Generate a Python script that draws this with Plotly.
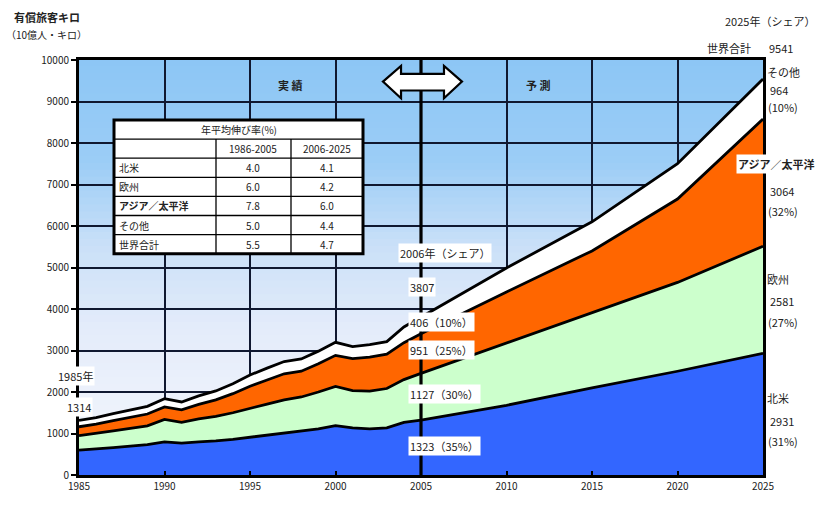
import plotly.graph_objects as go

# ---- data (10億人・キロ) ----
years = [1985, 1986, 1987, 1988, 1989, 1990, 1991, 1992, 1993, 1994, 1995,
         1996, 1997, 1998, 1999, 2000, 2001, 2002, 2003, 2004, 2005,
         2010, 2015, 2020, 2025]
north_america = [600, 625, 660, 695, 730, 800, 770, 800, 820, 860, 910,
                 960, 1010, 1050, 1110, 1190, 1134, 1110, 1134, 1268, 1323,
                 1680, 2100, 2500, 2931]
europe = [350, 375, 405, 430, 455, 540, 500, 550, 590, 640, 700,
          750, 800, 830, 890, 945, 900, 910, 950, 1030, 1127,
          1500, 1800, 2140, 2581]
asia_pacific = [212, 225, 245, 265, 285, 300, 300, 350, 400, 460, 530,
                580, 630, 620, 680, 748, 770, 820, 830, 890, 951,
                1230, 1500, 2010, 3064]
other = [152, 160, 170, 175, 185, 200, 190, 205, 215, 240, 270,
         285, 295, 295, 305, 315, 290, 300, 300, 380, 406,
         580, 700, 850, 964]

region_names = ["北米", "欧州", "アジア／太平洋", "その他"]
fill_colors = ["#3366ff", "#ccffcc", "#ff6600", "#ffffff"]
series = [north_america, europe, asia_pacific, other]

share_2005 = [35, 30, 25, 10]
share_2025 = [31, 27, 32, 10]
world_total_2025 = 9541

growth_regions = ["北米", "欧州", "アジア／太平洋", "その他", "世界合計"]
growth_1986_2005 = ["4.0", "6.0", "7.8", "5.0", "5.5"]
growth_2006_2025 = ["4.1", "4.2", "6.0", "4.4", "4.7"]
period_labels = ["1986-2005", "2006-2025"]

x_ticks = [1985, 1990, 1995, 2000, 2005, 2010, 2015, 2020, 2025]
y_ticks = list(range(0, 10001, 1000))

# ---- page geometry ----
W, H = 829, 505
L, R, T, B = 79, 763, 60, 482
FONT = "Noto Sans CJK JP, Noto Sans, sans-serif"
TXT = "#222222"


def px(x):
    return (x - L) / (R - L)


def py(y):
    return (B - y) / (B - T)


fig = go.Figure()

for name, vals, col in zip(region_names, series, fill_colors):
    fig.add_trace(go.Scatter(
        x=years, y=vals, name=name, mode="lines", stackgroup="all",
        line=dict(color="black", width=2.8), fillcolor=col,
        hoverinfo="skip", showlegend=False))

shapes = []

# sky gradient behind the grid
stops = [(0.0, (140, 198, 245)), (0.25, (156, 205, 246)), (0.45, (202, 224, 248)),
         (0.65, (228, 236, 250)), (1.0, (245, 247, 252))]


def grad(t):
    for (t0, c0), (t1, c1) in zip(stops, stops[1:]):
        if t0 <= t <= t1:
            f = (t - t0) / (t1 - t0)
            return tuple(round(a + (b - a) * f) for a, b in zip(c0, c1))
    return stops[-1][1]


n_bands = 60
for i in range(n_bands):
    t = (i + 0.5) / n_bands
    r, g, b = grad(t)
    shapes.append(dict(type="rect", xref="x domain", yref="y domain",
                       x0=0, x1=1, y0=1 - (i + 1) / n_bands, y1=1 - i / n_bands + 0.002,
                       fillcolor=f"rgb({r},{g},{b})", line=dict(width=0), layer="below"))

# 実績 / 予測 divider
shapes.append(dict(type="line", xref="x", yref="y domain", x0=2005, x1=2005, y0=0, y1=1,
                   line=dict(color="black", width=3.2), layer="above"))

# double-headed arrow
arrow_px = [(383, 82), (401, 66), (401, 74), (444, 74), (444, 66), (462, 82),
            (444, 99), (444, 91), (401, 91), (401, 99)]
path = "M " + " L ".join(f"{px(a):.4f},{py(b):.4f}" for a, b in arrow_px) + " Z"
shapes.append(dict(type="path", xref="paper", yref="paper", path=path,
                   fillcolor="white", line=dict(color="black", width=2.2), layer="above"))

# growth-rate table
tx0, tx1, ty0, ty1 = 114, 363, 121, 257
row_h = (ty1 - ty0) / 7
col_x = [tx0, 216, 291, tx1]
shapes.append(dict(type="rect", xref="paper", yref="paper", x0=px(tx0), x1=px(tx1),
                   y0=py(ty1), y1=py(ty0), fillcolor="white",
                   line=dict(color="black", width=1), layer="above"))
for k in range(1, 7):
    yy = ty0 + k * row_h
    shapes.append(dict(type="line", xref="paper", yref="paper", x0=px(tx0), x1=px(tx1),
                       y0=py(yy), y1=py(yy), line=dict(color="black", width=1.3),
                       layer="above"))
for xx in col_x[1:3]:
    shapes.append(dict(type="line", xref="paper", yref="paper", x0=px(xx), x1=px(xx),
                       y0=py(ty0 + row_h), y1=py(ty1), line=dict(color="black", width=1.3),
                       layer="above"))
shapes.append(dict(type="rect", xref="paper", yref="paper", x0=px(tx0), x1=px(tx1),
                   y0=py(ty1), y1=py(ty0), line=dict(color="black", width=3),
                   layer="above"))

annotations = []


def note(text, x, y, anchor="left", size=11, bold=False, bg=None, color=TXT):
    if bold:
        text = f"<b>{text}</b>"
    d = dict(text=text, xref="paper", yref="paper", x=px(x), y=py(y), xanchor=anchor,
             yanchor="middle", showarrow=False, font=dict(family=FONT, size=size, color=color))
    if bg:
        d.update(bgcolor=bg, borderpad=1)
    annotations.append(d)


# table text
note("年平均伸び率(%)", (tx0 + tx1) / 2, ty0 + row_h * 0.5, anchor="center", size=10)
for j, lab in enumerate(period_labels):
    note(lab, (col_x[j + 1] + col_x[j + 2]) / 2, ty0 + row_h * 1.5, anchor="center", size=10)
for i, reg in enumerate(growth_regions):
    yy = ty0 + row_h * (i + 2.5)
    note(reg, tx0 + 3, yy, bold=(reg == "アジア／太平洋"), size=10)
    note(growth_1986_2005[i], (col_x[1] + col_x[2]) / 2, yy, anchor="center", size=10)
    note(growth_2006_2025[i], (col_x[2] + col_x[3]) / 2, yy, anchor="center", size=10)

# axis title
note("有償旅客キロ", 12, 16, bold=True, size=11)
note("（10億人・キロ）", 4, 34, size=10)

# period headings
note("実 績", 290, 85, anchor="center", bold=True)
note("予 測", 538, 85, anchor="center", bold=True)

# 1985 label
total_1985 = sum(s[0] for s in series)
note("1985年", 56, 381, bg="white")
note(f"{total_1985}", 65, 413, bg="white")

# 2005 labels
i05 = years.index(2005)
vals_05 = [s[i05] for s in series]
total_05 = sum(vals_05)
note("2006年（シェア）", 398, 256, bg="white")
note(f"{total_05}", 408, 291, bg="white")
center_y = {3: 326, 2: 355, 1: 400, 0: 453}
for k in [3, 2, 1, 0]:
    note(f"{vals_05[k]}（{share_2005[k]}%）", 408, center_y[k], bg="white")

# 2025 labels
vals_25 = [s[-1] for s in series]
note("2025年（シェア）", 817, 20, anchor="right")
note("世界合計", 753, 48, anchor="right")
note(f"{world_total_2025}", 767, 48)
right_blocks = {3: (72, 90, 108), 2: (166, 193, 214), 1: (283, 305, 326), 0: (404, 427, 447)}
for k, (yn, yv, ys) in right_blocks.items():
    if k == 2:
        note(region_names[k], 777, yn, anchor="center", bold=True, bg="white")
    else:
        note(region_names[k], 765, yn)
    note(f"{vals_25[k]}", 768, yv)
    note(f"({share_2025[k]}%)", 766, ys)

fig.update_layout(
    width=W, height=H,
    margin=dict(l=L, r=W - R, t=T, b=H - B),
    paper_bgcolor="white", plot_bgcolor="#f4f6fc",
    font=dict(family=FONT, size=10, color=TXT),
    shapes=shapes, annotations=annotations, hovermode=False,
    xaxis=dict(range=[1985, 2025], tickvals=x_ticks, showgrid=True,
               gridcolor="#101830", gridwidth=1.6, zeroline=False,
               showline=True, linecolor="black", linewidth=3, mirror=True,
               ticks="inside", ticklen=4, tickcolor="black", tickwidth=1.5,
               tickfont=dict(size=10, color=TXT)),
    yaxis=dict(range=[0, 10000], tickvals=y_ticks, ticktext=[str(v) for v in y_ticks],
               showgrid=True, gridcolor="#101830", gridwidth=1.6, zeroline=False,
               showline=True, linecolor="black", linewidth=3, mirror=True,
               ticks="outside", ticklen=5, tickcolor="black", tickwidth=1.5,
               tickfont=dict(size=10, color=TXT)),
)

fig.write_html("out.html")
